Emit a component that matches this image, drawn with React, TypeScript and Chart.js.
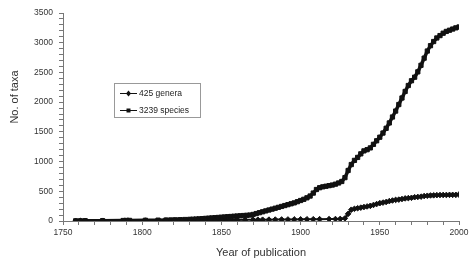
import React, { useEffect, useRef } from "react";
import { Chart, registerables } from "chart.js";

Chart.register(...registerables);

const generaYears = [1758, 1761, 1764, 1775, 1789, 1791, 1802, 1815, 1820, 1825, 1830, 1835, 1840, 1843, 1846, 1850, 1855, 1860, 1865, 1870, 1873, 1876, 1880, 1884, 1888, 1892, 1896, 1900, 1904, 1908, 1912, 1918, 1922, 1925, 1928, 1930, 1932, 1934, 1936, 1938, 1940, 1942, 1944, 1946, 1948, 1950, 1952, 1954, 1956, 1958, 1960, 1962, 1964, 1966, 1968, 1970, 1972, 1974, 1976, 1978, 1980, 1982, 1984, 1986, 1988, 1990, 1992, 1994, 1996, 1998, 2000];
const generaValues = [1, 2, 3, 4, 5, 6, 7, 8, 9, 10, 11, 12, 13, 14, 15, 16, 17, 18, 19, 20, 21, 22, 23, 24, 25, 26, 27, 28, 29, 30, 31, 32, 33, 35, 45, 120, 190, 205, 215, 225, 235, 245, 255, 270, 285, 300, 310, 320, 335, 345, 355, 360, 370, 380, 385, 390, 400, 405, 410, 420, 425, 430, 432, 435, 437, 438, 438, 440, 440, 440, 445];

const speciesYears = [1758, 1761, 1764, 1775, 1788, 1790, 1792, 1802, 1810, 1815, 1818, 1821, 1824, 1827, 1830, 1832, 1834, 1836, 1838, 1840, 1842, 1844, 1846, 1848, 1850, 1852, 1854, 1856, 1858, 1860, 1862, 1864, 1866, 1868, 1870, 1872, 1874, 1876, 1878, 1880, 1882, 1884, 1886, 1888, 1890, 1892, 1894, 1896, 1898, 1900, 1902, 1904, 1906, 1908, 1910, 1912, 1914, 1916, 1918, 1920, 1922, 1924, 1926, 1928, 1930, 1932, 1934, 1936, 1938, 1940, 1942, 1944, 1946, 1948, 1950, 1952, 1954, 1956, 1958, 1960, 1962, 1964, 1966, 1968, 1970, 1972, 1974, 1976, 1978, 1980, 1982, 1984, 1986, 1988, 1990, 1992, 1994, 1996, 1998, 2000];
const speciesValues = [3, 4, 5, 6, 8, 9, 10, 12, 14, 16, 18, 20, 22, 25, 28, 30, 33, 36, 40, 44, 48, 52, 56, 60, 64, 68, 72, 76, 80, 84, 88, 92, 96, 100, 110, 125, 140, 155, 170, 185, 200, 215, 230, 245, 260, 275, 290, 305, 325, 345, 365, 390, 420, 470, 530, 560, 575, 585, 595, 605, 620, 640, 665, 730, 850, 950, 1020, 1070, 1130, 1180, 1200, 1230, 1290, 1350, 1410, 1480, 1560, 1650, 1750, 1850, 1960, 2070, 2180, 2280, 2360, 2420, 2510, 2620, 2740, 2860, 2950, 3020, 3080, 3120, 3160, 3190, 3210, 3230, 3250, 3265];

const seriesLabels = ["425 genera", "3239 species"];
const xTitle = "Year of publication";
const yTitle = "No. of taxa";

const FONT = "'Liberation Sans', Arial, sans-serif";

const legendAndTitlePlugin = {
  id: "customLegend",
  afterDraw(chart: any) {
    const ctx = chart.ctx;
    ctx.save();
    ctx.fillStyle = "#333";
    ctx.font = `11px ${FONT}`;
    ctx.textAlign = "center";
    ctx.textBaseline = "middle";
    ctx.translate(15, 97);
    ctx.rotate(-Math.PI / 2);
    ctx.fillText(yTitle, 0, 0);
    ctx.restore();

    ctx.save();
    const bx = 114, by = 83, bw = 86, bh = 34;
    ctx.strokeStyle = "#999";
    ctx.lineWidth = 1;
    ctx.strokeRect(bx + 0.5, by + 0.5, bw, bh);
    const rows = [93, 110];
    chart.data.datasets.forEach((ds: any, i: number) => {
      const y = rows[i];
      ctx.strokeStyle = "#111";
      ctx.lineWidth = 1;
      ctx.beginPath();
      ctx.moveTo(120, y + 0.5);
      ctx.lineTo(137, y + 0.5);
      ctx.stroke();
      ctx.fillStyle = "#111";
      ctx.beginPath();
      if (i === 0) {
        ctx.moveTo(128.5, y - 2.5);
        ctx.lineTo(131, y + 0.5);
        ctx.lineTo(128.5, y + 3.5);
        ctx.lineTo(126, y + 0.5);
        ctx.closePath();
      } else {
        ctx.rect(126.5, y - 1.5, 4, 4);
      }
      ctx.fill();
      ctx.fillStyle = "#222";
      ctx.font = `8.5px ${FONT}`;
      ctx.textAlign = "left";
      ctx.textBaseline = "middle";
      ctx.fillText(ds.label, 139, y + 0.5);
    });
    ctx.restore();
  },
};

export default function App() {
  const ref = useRef<HTMLCanvasElement | null>(null);
  useEffect(() => {
    if (!ref.current) return;
    const chart = new Chart(ref.current, {
      type: "line",
      data: {
        datasets: [
          {
            label: seriesLabels[0],
            data: generaYears.map((x, i) => ({ x, y: generaValues[i] })),
            borderColor: "#111",
            backgroundColor: "#111",
            borderWidth: 2,
            pointStyle: "rectRot",
            pointRadius: 2.8,
            pointBorderWidth: 1,
            tension: 0,
          },
          {
            label: seriesLabels[1],
            data: speciesYears.map((x, i) => ({ x, y: speciesValues[i] })),
            borderColor: "#111",
            backgroundColor: "#111",
            borderWidth: 3.5,
            pointStyle: "rect",
            pointRadius: 3,
            pointBorderWidth: 1,
            tension: 0,
          },
        ],
      },
      options: {
        responsive: false,
        animation: false,
        layout: { padding: { top: 13, right: 13, left: 0, bottom: 0 } },
        plugins: { legend: { display: false }, tooltip: { enabled: false } },
        scales: {
          x: {
            type: "linear",
            min: 1750,
            max: 2000,
            afterFit: (s: any) => { s.height = 50; },
            ticks: {
              stepSize: 10,
              autoSkip: false,
              maxRotation: 0,
              padding: 3,
              color: "#333",
              font: { size: 8.5, family: FONT },
              callback: (v: any) => (Number(v) % 50 === 0 ? String(v) : ""),
            },
            grid: { drawOnChartArea: false, tickLength: 4, color: "#777" },
            border: { color: "#777" },
            title: {
              display: true,
              text: xTitle,
              color: "#333",
              font: { size: 11, family: FONT },
              padding: { top: 0, bottom: 11 },
            },
          },
          y: {
            min: 0,
            max: 3500,
            afterFit: (s: any) => { s.width = 63; },
            ticks: {
              stepSize: 100,
              autoSkip: false,
              padding: 6,
              color: "#333",
              font: { size: 8.5, family: FONT },
              callback: (v: any) => (Number(v) % 500 === 0 ? String(v) : ""),
            },
            grid: { drawOnChartArea: false, tickLength: 4, color: "#777" },
            border: { color: "#777" },
          },
        },
      },
      plugins: [legendAndTitlePlugin],
    } as any);
    return () => chart.destroy();
  }, []);
  return (
    <div style={{ position: "absolute", left: 0, top: 0, width: 472, height: 271, background: "#fff" }}>
      <canvas ref={ref} width={472} height={271} />
    </div>
  );
}
